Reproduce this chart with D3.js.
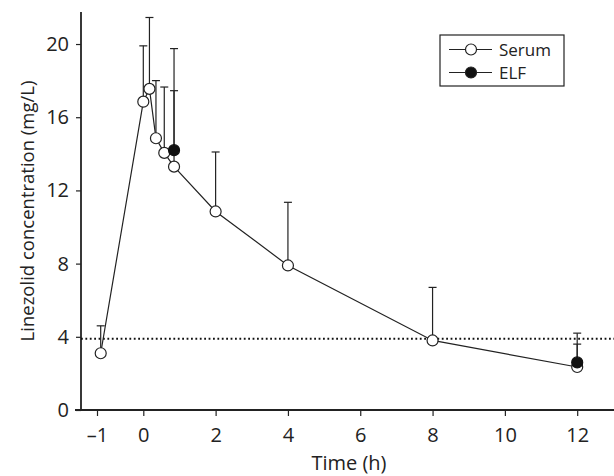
<!DOCTYPE html>
<html>
<head>
<meta charset="utf-8">
<script src="https://cdn.jsdelivr.net/npm/d3@7"></script>
<style>
body { margin: 0; background: #fff; }
text { font-family: "Open Sans", "Noto Sans", sans-serif; fill: #222; }
</style>
</head>
<body>
<div id="chart"></div>
<script>
// time points (h) and mean / upper error values
var serumTime = [-0.92, 0, 0.17, 0.35, 0.58, 0.85, 2, 4, 8, 12];
var serumMean = [3.1, 16.85, 17.55, 14.85, 14.05, 13.3, 10.85, 7.9, 3.8, 2.35];
var serumUpper = [4.6, 19.9, 21.45, 18.0, 17.65, 17.45, 14.1, 11.35, 6.7, 4.2];

var elfTime = [0.85, 12];
var elfMean = [14.2, 2.6];
var elfUpper = [19.75, 3.6];

var xTicks = [-1, 0, 2, 4, 6, 8, 10, 12];
var yTicks = [0, 4, 8, 12, 16, 20];
var threshold = 3.9;

var svgWidth = 614;
var svgHeight = 476;

var margin = { top: 12, right: 0, bottom: 66, left: 81 };
var width = svgWidth - margin.left - margin.right;
var height = svgHeight - margin.top - margin.bottom;

var svg = d3.select("#chart")
    .append("svg")
    .attr("width", svgWidth)
    .attr("height", svgHeight);

var chartGroup = svg.append("g")
    .attr("transform", `translate(${margin.left}, ${margin.top})`);

// the -1 (pre-dose) slot is spaced wider than the rest of the axis
var xScale = d3.scaleLinear()
    .domain([-1, 0, 12])
    .range([16, 62.3, 496.2]);

var yScale = d3.scaleLinear()
    .domain([0, 21.75])
    .range([height, 0]);

var serum = serumTime.map((t, i) => ({ t: t, m: serumMean[i], u: serumUpper[i] }));
var elf = elfTime.map((t, i) => ({ t: t, m: elfMean[i], u: elfUpper[i] }));

// axes
var leftAxis = d3.axisLeft(yScale).tickValues(yTicks).tickSize(5).tickPadding(7).tickFormat(d3.format("d"));
var bottomAxis = d3.axisBottom(xScale).tickValues(xTicks).tickSize(6).tickPadding(12)
    .tickFormat(d => d < 0 ? "\u2013" + Math.abs(d) : d);

var yG = chartGroup.append("g").call(leftAxis);
var xG = chartGroup.append("g").attr("transform", `translate(0, ${height})`).call(bottomAxis);

[yG, xG].forEach(function(g) {
  g.select(".domain").remove();
  g.selectAll(".tick line").attr("stroke", "#222").attr("stroke-width", 1.2);
  g.selectAll(".tick text").attr("font-size", "20px").attr("fill", "#222");
});

chartGroup.append("line")
    .attr("x1", 0).attr("x2", 0)
    .attr("y1", 0).attr("y2", height)
    .attr("stroke", "#222").attr("stroke-width", 1.8);

chartGroup.append("line")
    .attr("x1", -6).attr("x2", width)
    .attr("y1", height).attr("y2", height)
    .attr("stroke", "#222").attr("stroke-width", 1.8);

// dotted threshold line
chartGroup.append("line")
    .attr("x1", 0).attr("x2", width)
    .attr("y1", yScale(threshold)).attr("y2", yScale(threshold))
    .attr("stroke", "#111").attr("stroke-width", 2)
    .attr("stroke-dasharray", "1.8,2.6");

// serum line
var line = d3.line().x(d => xScale(d.t)).y(d => yScale(d.m));
chartGroup.append("path")
    .datum(serum)
    .attr("d", line)
    .attr("fill", "none")
    .attr("stroke", "#222")
    .attr("stroke-width", 1.2);

// error bars (upper only)
function errorBars(data) {
  var g = chartGroup.append("g");
  g.selectAll("line.v").data(data).enter().append("line")
      .attr("x1", d => xScale(d.t)).attr("x2", d => xScale(d.t))
      .attr("y1", d => yScale(d.m)).attr("y2", d => yScale(d.u))
      .attr("stroke", "#222").attr("stroke-width", 1.2);
  g.selectAll("line.c").data(data).enter().append("line")
      .attr("x1", d => xScale(d.t) - 4).attr("x2", d => xScale(d.t) + 4)
      .attr("y1", d => yScale(d.u)).attr("y2", d => yScale(d.u))
      .attr("stroke", "#222").attr("stroke-width", 1.2);
}
errorBars(serum);
errorBars(elf);

chartGroup.selectAll("circle.serum")
    .data(serum).enter().append("circle")
    .attr("cx", d => xScale(d.t))
    .attr("cy", d => yScale(d.m))
    .attr("r", 5.5)
    .attr("fill", "white")
    .attr("stroke", "#222")
    .attr("stroke-width", 1.2);

chartGroup.selectAll("circle.elf")
    .data(elf).enter().append("circle")
    .attr("cx", d => xScale(d.t))
    .attr("cy", d => yScale(d.m))
    .attr("r", 5.5)
    .attr("fill", "#111")
    .attr("stroke", "#111")
    .attr("stroke-width", 1.2);

// axis titles
chartGroup.append("text")
    .attr("transform", "rotate(-90)")
    .attr("x", -199)
    .attr("y", -47)
    .attr("text-anchor", "middle")
    .attr("font-size", "18.5px")
    .text("Linezolid concentration (mg/L)");

chartGroup.append("text")
    .attr("x", 268)
    .attr("y", height + 60)
    .attr("text-anchor", "middle")
    .attr("font-size", "20px")
    .text("Time (h)");

// legend
var legend = svg.append("g").attr("transform", "translate(440, 35)");
legend.append("rect")
    .attr("width", 124).attr("height", 51)
    .attr("fill", "white").attr("stroke", "#222").attr("stroke-width", 1.2);

[["Serum", "white", 14.5], ["ELF", "#111", 37.5]].forEach(function(it) {
  legend.append("line")
      .attr("x1", 9).attr("x2", 52)
      .attr("y1", it[2]).attr("y2", it[2])
      .attr("stroke", "#222").attr("stroke-width", 1.2);
  legend.append("circle")
      .attr("cx", 31).attr("cy", it[2]).attr("r", 5.5)
      .attr("fill", it[1]).attr("stroke", "#222").attr("stroke-width", 1.2);
  legend.append("text")
      .attr("x", 59).attr("y", it[2] + 6)
      .attr("font-size", "17px")
      .text(it[0]);
});
</script>
</body>
</html>
